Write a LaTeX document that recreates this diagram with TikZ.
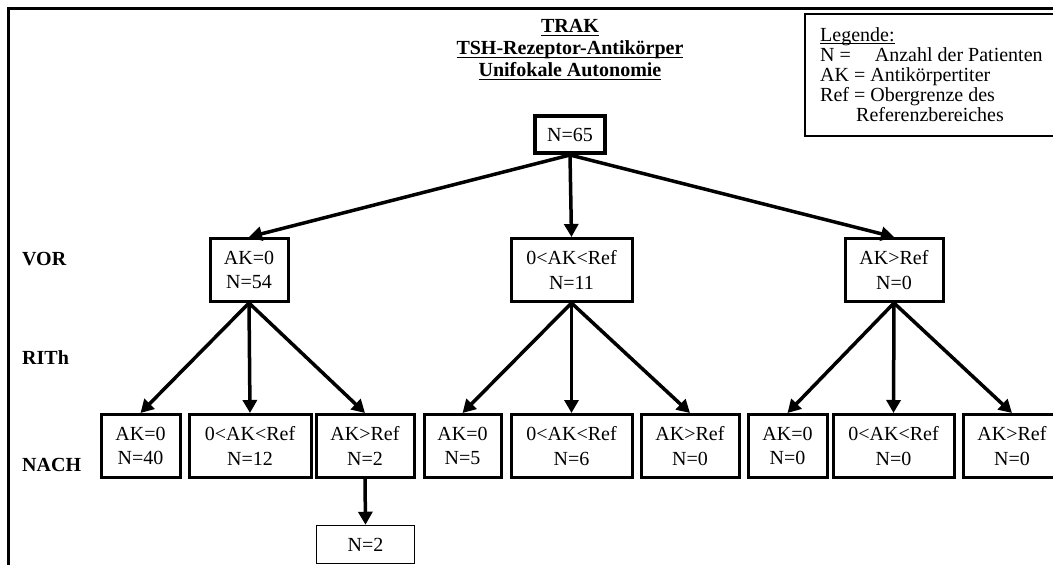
\documentclass[tikz,border=0pt]{standalone}
\usepackage{fontspec}
\setmainfont{Liberation Serif}
\usepackage{tikz}
\usetikzlibrary{arrows.meta,positioning}
\newcommand\ulbar[1]{\setbox0\hbox{#1}\rlap{\rule[-3.5pt]{\wd0}{1.6pt}}\box0}
\newcommand\ullite[1]{\setbox0\hbox{#1}\rlap{\rule[-2.5pt]{\wd0}{1pt}}\box0}

\begin{document}
\begin{tikzpicture}[x=1pt,y=-1pt,font=\fontsize{20}{20}\selectfont,
  every node/.style={inner sep=0pt,align=center},
  box/.style={draw=black,line width=3pt,minimum height=63pt,font=\fontsize{20}{24.5}\selectfont},
  arr/.style={line width=3.5pt,-{Triangle[length=13pt,width=14pt]}},
  lbl/.style={anchor=west,font=\fontsize{20}{21}\selectfont\bfseries}]
\useasboundingbox (0,0) rectangle (1053,565);
\clip (0,0) rectangle (1053,565);
% frame and legend
\draw[line width=2.5pt] (8.5,575) -- (8.5,8.5) -- (1065,8.5);
\draw[line width=2pt] (1070,14) -- (805,14) -- (805,136) -- (1070,136);
\node (leg) at (820,27) [anchor=north west,align=left] {\ullite{Legende:}\\
N =\hspace{24pt}Anzahl der Patienten\\
AK = Antikörpertiter\\
Ref = Obergrenze des\\
\hspace{36pt}Referenzbereiches};
% title
\node (t) at (570,50) [font=\fontsize{20}{22}\selectfont\bfseries] {\ulbar{TRAK}\\\ulbar{TSH-Rezeptor-Antikörper}\\\ulbar{Unifokale Autonomie}};
% row labels
\node (vor) at (22,259) [lbl] {VOR};
\node (rith) at (22,358) [lbl] {RITh};
\node (nach) at (22,465) [lbl] {NACH};
% root
\node (a) at (570,134.5) [box,line width=4pt,minimum width=70,minimum height=37] {N=65};
% VOR
\node (b) at (249,270) [box,minimum width=78] {AK=0\\N=54};
\node (c) at (571.5,270) [box,minimum width=121] {0<AK<Ref\\N=11};
\node (d) at (894,270) [box,minimum width=98] {AK>Ref\\N=0};
\draw[arr] (a.south) -- (b.north);
\draw[arr] (a.south) -- (c.north);
\draw[arr] (a.south) -- (d.north);
% NACH
\node (e) at (140.5,446) [box,minimum width=79] {AK=0\\N=40};
\node (f) at (250,446) [box,minimum width=122] {0<AK<Ref\\N=12};
\node (g) at (365,446) [box,minimum width=98] {AK>Ref\\N=2};
\node (h) at (462.5,446) [box,minimum width=77] {AK=0\\N=5};
\node (i) at (571.5,446) [box,minimum width=121] {0<AK<Ref\\N=6};
\node (j) at (690,446) [box,minimum width=98] {AK>Ref\\N=0};
\node (k) at (787.5,446) [box,minimum width=79] {AK=0\\N=0};
\node (l) at (893.5,446) [box,minimum width=121] {0<AK<Ref\\N=0};
\node (m) at (1012,446) [box,minimum width=98] {AK>Ref\\N=0};
\draw[arr] (b.south) -- (e.north);
\draw[arr] (b.south) -- (f.north);
\draw[arr] (b.south) -- (g.north);
\draw[arr] (c.south) -- (h.north);
\draw[arr] (c.south) -- (i.north);
\draw[arr] (c.south) -- (j.north);
\draw[arr] (d.south) -- (k.north);
\draw[arr] (d.south) -- (l.north);
\draw[arr] (d.south) -- (m.north);
% follow-up
\node (n) at (365.5,544.5) [box,line width=1.5pt,minimum width=98,minimum height=38] {N=2};
\draw[arr] (g.south) -- (n.north);
\end{tikzpicture}
\end{document}
